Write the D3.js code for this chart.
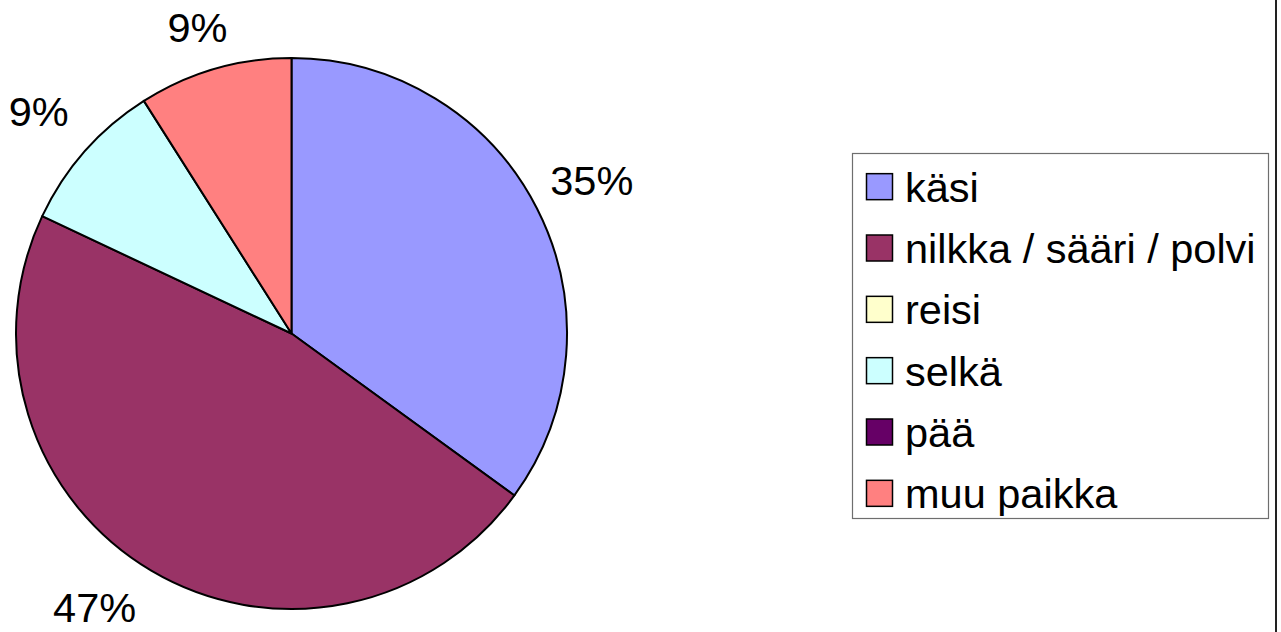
<!DOCTYPE html>
<html>
<head>
<meta charset="utf-8">
<script src="https://cdn.jsdelivr.net/npm/d3@7"></script>
<style>
  html, body { margin: 0; padding: 0; background: #fff; }
  svg { display: block; }
  text { font-family: "Liberation Sans", Arial, sans-serif; fill: #000; }
</style>
</head>
<body>
<svg id="chart" width="1281" height="632"></svg>
<script>
// Injury location shares (percent)
const categories = ["käsi", "nilkka / sääri / polvi", "reisi", "selkä", "pää", "muu paikka"];
const values = [35, 47, 0, 9, 0, 9];
const colors = ["#9999FF", "#993366", "#FFFFCC", "#CCFFFF", "#660066", "#FF8080"];

const W = 1281, H = 632;
const svg = d3.select("#chart");

const cx = 291.5, cy = 333.5, radius = 275.5;
const fontSize = 41.5;
const labelRadius = 337;

const total = d3.sum(values);
const pie = d3.pie().value(d => d.value).sort(null);
const arcs = pie(categories.map((c, i) => ({ name: c, value: values[i], color: colors[i] })));

const arc = d3.arc().innerRadius(0).outerRadius(radius);

const g = svg.append("g").attr("transform", `translate(${cx},${cy})`);

g.selectAll("path.slice")
  .data(arcs.filter(d => d.value > 0))
  .join("path")
  .attr("class", "slice")
  .attr("d", arc)
  .attr("fill", d => d.data.color)
  .attr("stroke", "#000")
  .attr("stroke-width", 2)
  .attr("stroke-linejoin", "round");

// Percentage labels outside the pie on a ring; a label that would leave
// the drawing area slides along the ring until it fits vertically.
const capHalf = fontSize * 0.36;
const minCenter = 12 + capHalf - cy;   // relative to pie centre
const maxCenter = 607 - cy;
function labelPos(d) {
  let a = (d.startAngle + d.endAngle) / 2;
  let y = -labelRadius * Math.cos(a);
  if (y > maxCenter) {
    const c = -maxCenter / labelRadius;
    a = a < Math.PI ? Math.acos(c) : 2 * Math.PI - Math.acos(c);
    y = maxCenter;
  } else if (y < minCenter) {
    y = minCenter;
  }
  return [labelRadius * Math.sin(a), y];
}

g.selectAll("text.pct")
  .data(arcs.filter(d => d.value > 0))
  .join("text")
  .attr("class", "pct")
  .attr("text-anchor", "middle")
  .attr("font-size", fontSize)
  .attr("x", d => labelPos(d)[0])
  .attr("y", d => labelPos(d)[1] + capHalf)
  .text(d => Math.round(d.value / total * 100) + "%");

// Legend
const legend = svg.append("g");
legend.append("rect")
  .attr("x", 852.5).attr("y", 153.5)
  .attr("width", 416).attr("height", 365)
  .attr("fill", "#fff")
  .attr("stroke", "#6e6e6e")
  .attr("stroke-width", 1.2);

const rowY = d3.scaleBand().domain(categories).range([156, 524]);
const items = legend.selectAll("g.item")
  .data(categories)
  .join("g")
  .attr("class", "item")
  .attr("transform", c => `translate(0,${rowY(c) + rowY.bandwidth() / 2})`);

items.append("rect")
  .attr("x", 866.5).attr("y", -13)
  .attr("width", 26).attr("height", 26)
  .attr("fill", (c, i) => colors[i])
  .attr("stroke", "#000")
  .attr("stroke-width", 1.5);

items.append("text")
  .attr("x", 905)
  .attr("y", 15)
  .attr("font-size", fontSize)
  .text(c => c);

// Right border line
svg.append("line")
  .attr("x1", 1276).attr("x2", 1276)
  .attr("y1", 0).attr("y2", H)
  .attr("stroke", "#222")
  .attr("stroke-width", 2);
</script>
</body>
</html>
